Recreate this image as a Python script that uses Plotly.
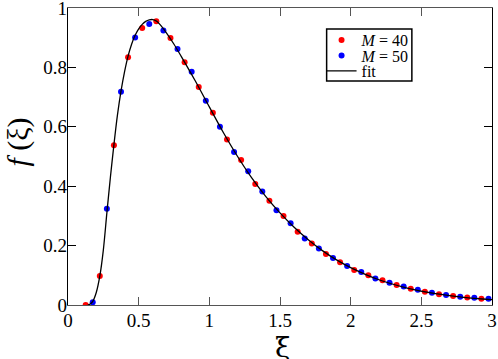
import plotly.graph_objects as go

# M = 40 data (red)
xi_m40 = [0.125, 0.225, 0.325, 0.425, 0.525, 0.625, 0.725, 0.825, 0.925, 1.025,
          1.125, 1.225, 1.325, 1.425, 1.525, 1.625, 1.725, 1.825, 1.925, 2.025,
          2.125, 2.225, 2.325, 2.425, 2.525, 2.625, 2.725, 2.825, 2.925]
f_m40 = [0.0, 0.098, 0.538, 0.834, 0.933, 0.955, 0.899, 0.817, 0.734, 0.647,
         0.557, 0.488, 0.407, 0.351, 0.300, 0.247, 0.207, 0.172, 0.144, 0.118,
         0.100, 0.083, 0.067, 0.055, 0.045, 0.036, 0.030, 0.025, 0.021]

# M = 50 data (blue)
xi_m50 = [0.175, 0.275, 0.375, 0.475, 0.575, 0.675, 0.775, 0.875, 0.975, 1.075,
          1.175, 1.275, 1.375, 1.475, 1.575, 1.675, 1.775, 1.875, 1.975, 2.075,
          2.175, 2.275, 2.375, 2.475, 2.575, 2.675, 2.775, 2.875, 2.975]
f_m50 = [0.009, 0.324, 0.718, 0.901, 0.946, 0.924, 0.862, 0.785, 0.688, 0.600,
         0.515, 0.450, 0.382, 0.319, 0.275, 0.224, 0.190, 0.158, 0.131, 0.111,
         0.089, 0.075, 0.062, 0.051, 0.041, 0.034, 0.028, 0.024, 0.021]

# fit curve
xi_fit = [0.14, 0.16, 0.175, 0.2, 0.225, 0.25, 0.275, 0.3, 0.325, 0.35, 0.375, 0.4,
          0.425, 0.45, 0.475, 0.5, 0.525, 0.55, 0.575, 0.6, 0.625, 0.65, 0.7,
          0.75, 0.8, 0.9, 1.0, 1.1, 1.2, 1.3, 1.4, 1.5, 1.6, 1.7, 1.8, 1.9,
          2.0, 2.2, 2.4, 2.6, 2.8, 3.0]
f_fit = [0.0, 0.004, 0.012, 0.042, 0.097, 0.185, 0.31, 0.43, 0.54, 0.64, 0.72, 0.785,
         0.838, 0.878, 0.908, 0.93, 0.945, 0.955, 0.96, 0.961, 0.956, 0.945, 0.914,
         0.878, 0.838, 0.755, 0.667, 0.58, 0.5, 0.428, 0.365, 0.31, 0.262, 0.22,
         0.183, 0.152, 0.126, 0.085, 0.057, 0.038, 0.026, 0.018]

x_ticks = [0, 0.5, 1, 1.5, 2, 2.5, 3]
y_ticks = [0, 0.2, 0.4, 0.6, 0.8, 1]
x_title = "ξ"
y_title = "<i>f</i> (ξ)"

serif = "Liberation Serif, Times New Roman, serif"
greek = "DejaVu Serif, serif"

fig = go.Figure()
fig.add_trace(go.Scatter(x=xi_m40, y=f_m40, mode="markers", name="<i>M</i> = 40",
                         marker=dict(color="#ff0000", size=6), legend="legend"))
fig.add_trace(go.Scatter(x=xi_m50, y=f_m50, mode="markers", name="<i>M</i> = 50",
                         marker=dict(color="#0000ff", size=6), legend="legend2"))
fig.add_trace(go.Scatter(x=xi_fit, y=f_fit, mode="lines", name="fit",
                         line=dict(color="black", width=1.3, shape="spline", smoothing=0.8),
                         legend="legend3"))

leg_common = dict(xanchor="left", yanchor="middle", bgcolor="rgba(0,0,0,0)",
                  borderwidth=0, font=dict(family=serif, size=16), itemwidth=30)

fig.update_layout(
    width=498, height=359,
    margin=dict(l=68, r=6, t=8, b=54, autoexpand=False),
    paper_bgcolor="white", plot_bgcolor="white",
    font=dict(family=serif, color="black", size=19),
    showlegend=True,
    legend=dict(x=0.598, y=0.892, **leg_common),
    legend2=dict(x=0.598, y=0.840, **leg_common),
    legend3=dict(x=0.598, y=0.788, **leg_common),
    shapes=[dict(type="rect", xref="paper", yref="paper", x0=0.610, x1=0.811,
                 y0=0.754, y1=0.929, line=dict(color="black", width=1.5),
                 layer="below")],
    xaxis=dict(range=[0, 3], tickvals=x_ticks, ticks="inside", ticklen=8,
               tickcolor="#555", showline=True, linecolor="#555", linewidth=1.3,
               mirror="ticks", showgrid=False, zeroline=False, automargin=False,
               ticklabelstandoff=-2, ticklabeloverflow="allow"),
    yaxis=dict(range=[0, 1], tickvals=y_ticks, ticks="inside", ticklen=8,
               tickcolor="black", showline=True, linecolor="black", linewidth=1.3,
               mirror="ticks", showgrid=False, zeroline=False, automargin=False,
               ticklabelstandoff=-4, ticklabeloverflow="allow"),
    annotations=[
        dict(text=x_title, xref="paper", yref="paper", x=0.505, y=-0.142,
             xanchor="center", yanchor="middle", showarrow=False,
             font=dict(family=greek, size=28)),
        dict(text=y_title, xref="paper", yref="paper", x=-0.118, y=0.55,
             xanchor="center", yanchor="middle", showarrow=False, textangle=-90,
             font=dict(family=serif, size=30)),
    ],
)

fig.write_html("out.html", config={"displayModeBar": False},
               post_script="document.body.style.margin='0px';")
